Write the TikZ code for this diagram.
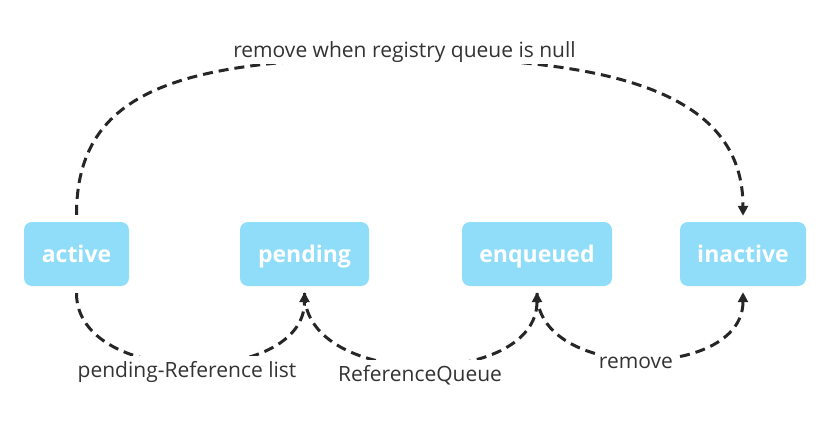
\documentclass[tikz,border=0pt]{standalone}
\usepackage{fontspec}
\setmainfont{Open Sans}
\usetikzlibrary{arrows.meta}
\definecolor{boxfill}{RGB}{143,221,248}
\definecolor{edgecol}{RGB}{38,38,38}
\definecolor{labcol}{RGB}{51,51,51}
\tikzset{
  state/.style={draw=none, fill=boxfill, rounded corners=8pt, minimum height=64pt,
    text=white, font=\fontsize{23}{26}\selectfont\bfseries, inner sep=0pt,
    text height=16pt, text depth=0pt},
  conn/.style={draw=edgecol, line width=3pt, dash pattern=on 10pt off 6pt,
    -{Triangle[length=10pt,width=10pt]}, shorten <=7pt, shorten >=6pt},
  lab/.style={fill=white, text=labcol, font=\fontsize{21}{24}\selectfont,
    inner xsep=2pt, inner ysep=5pt, anchor=base},
  toplab/.style={lab, inner ysep=2pt}
}
\begin{document}
\begin{tikzpicture}[x=1pt,y=-1pt]
\useasboundingbox (0,0) rectangle (836,436);
\node[state, minimum width=105pt] (active) at (76.5,254) {active};
\node[state, minimum width=129pt] (pending) at (304.5,254) {pending};
\node[state, minimum width=150pt] (enqueued) at (537,254) {enqueued};
\node[state, minimum width=126pt] (inactive) at (743,254) {inactive};
\coordinate (topmid) at (405,58);
\draw[conn] (active.north) .. controls (76.5,90) and (180,58) .. (topmid)
  .. controls (630,58) and (743,100) .. (inactive.north);
\draw[conn] (active.south) .. controls (76.5,387) and (304.5,387) .. (pending.south);
\draw[conn] (pending.south) .. controls (304.5,389) and (537,389) .. (enqueued.south);
\draw[conn] (enqueued.south) .. controls (537,381) and (743,381) .. (inactive.south);
\node[toplab] (l1) at (404.5,57.3) {remove when registry queue is null};
\node[lab] (l2) at (187,377) {pending-Reference list};
\node[lab] (l3) at (420,381) {ReferenceQueue};
\node[lab] (l4) at (636,368) {remove};
\end{tikzpicture}
\end{document}
